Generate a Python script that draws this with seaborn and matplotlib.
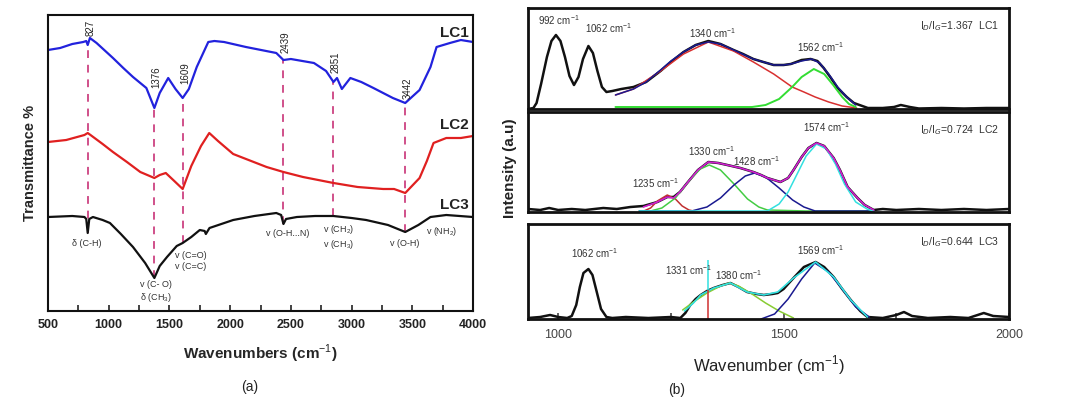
import numpy as np
import matplotlib
matplotlib.use("Agg")
import matplotlib.pyplot as plt
import matplotlib.ticker as mticker
import seaborn as sns

sns.set_theme(style="white")
plt.rcParams["font.family"] = ["Liberation Sans", "DejaVu Sans"]
plt.rcParams["mathtext.fontset"] = "custom"
plt.rcParams["mathtext.rm"] = "Liberation Sans"

# ---------------------------------------------------------------
# (a) FTIR spectra, arbitrary transmittance units (offset stack)
# ---------------------------------------------------------------
lc1_wn = [500, 600, 700, 790, 815, 827, 845, 900, 1035, 1120, 1200, 1310, 1376, 1420, 1490,
          1550, 1609, 1660, 1725, 1820, 1870, 1950, 2130, 2380, 2439, 2500, 2690, 2790, 2851,
          2880, 2920, 2990, 3080, 3180, 3340, 3442, 3560, 3650, 3700, 3810, 3900, 4000]
lc1_t = [261, 263, 267, 269, 270, 266, 273, 268, 253, 243, 234, 223, 203, 218, 233,
         222, 213, 222, 244, 269, 270, 269, 264, 258, 251, 252, 248, 240, 229,
         233, 222, 233, 229, 223, 213, 208, 221, 244, 264, 268, 271, 269]

lc2_wn = [500, 650, 800, 827, 850, 950, 1035, 1150, 1260, 1376, 1420, 1470, 1540, 1609, 1680,
          1760, 1828, 1900, 2025, 2300, 2439, 2600, 2851, 3050, 3260, 3350, 3442, 3560, 3620,
          3675, 3780, 3900, 4000]
lc2_t = [169, 171, 176, 178, 176, 167, 159, 149, 139, 133, 136, 138, 130, 122, 145,
         165, 178, 170, 157, 144, 139, 134, 128, 124, 122, 122, 118, 133, 150,
         168, 173, 173, 175]

lc3_wn = [500, 700, 800, 815, 827, 840, 870, 950, 1010, 1100, 1200, 1300, 1376, 1420, 1480,
          1560, 1609, 1680, 1750, 1790, 1800, 1830, 2025, 2200, 2380, 2420, 2439, 2460, 2550,
          2700, 2850, 3000, 3120, 3300, 3442, 3550, 3650, 3780, 4000]
lc3_t = [94, 95, 94, 92, 78, 92, 94, 91, 88, 77, 64, 48, 33, 45, 54,
         65, 68, 74, 81, 80, 77, 83, 91, 95, 98, 96, 87, 92, 94,
         95, 95, 93, 91, 86, 79, 86, 94, 96, 94]

ftir_peaks = [827, 1376, 1609, 2439, 2851, 3442]
ftir_peak_y = [283, 234, 238, 269, 249, 223]

band_labels = ["δ (C-H)", "v (C- O)\nδ (CH$_3$)", "v (C=O)\nv (C=C)", "v (O-H...N)",
               "v (CH$_2$)\nv (CH$_3$)", "v (O-H)", "v (NH$_2$)"]
band_wn = [823, 1390, 1678, 2470, 2890, 3440, 3745]
band_y = [68, 19, 50, 78, 74, 68, 79]

# ---------------------------------------------------------------
# (b) Raman spectra with deconvoluted bands
# ---------------------------------------------------------------
r1_wn = [933, 945, 952, 962, 975, 985, 995, 1005, 1015, 1025, 1035, 1045, 1055, 1067, 1077,
         1087, 1097, 1107, 1120, 1140, 1167, 1195, 1227, 1250, 1278, 1305, 1333, 1360, 1389,
         1410, 1433, 1455, 1478, 1500, 1516, 1540, 1560, 1575, 1589, 1605, 1620, 1640, 1656,
         1687, 1720, 1745, 1760, 1780, 1800, 1850, 1900, 1950, 2000]
r1_int = [0, 1, 6, 25, 52, 68, 74, 68, 52, 33, 24, 32, 50, 63, 56,
          38, 22, 17, 18, 20, 22, 27, 38, 47, 57, 64, 68, 65, 59,
          55, 50, 47, 44, 44, 45, 49, 50, 48, 41, 31, 21, 12, 6,
          1, 1, 2, 4, 2, 0.5, 1, 0.5, 1, 1]
r1_fit_wn = [1127, 1167, 1195, 1227, 1250, 1278, 1305, 1333, 1360, 1389, 1433, 1478, 1500,
             1516, 1540, 1562, 1580, 1600, 1620, 1640, 1660]
r1_fit = [14, 20, 27, 39, 48, 57, 64, 67, 65, 59, 50, 44, 44,
          45, 48, 50, 46, 35, 22, 12, 4]
r1_d_wn = [1127, 1167, 1227, 1278, 1333, 1389, 1433, 1478, 1519, 1545, 1570, 1600, 1630, 1662]
r1_d = [14, 20, 38, 55, 67, 58, 47, 35, 22, 17, 12, 7, 3, 1]
r1_g_wn = [1127, 1300, 1430, 1460, 1490, 1519, 1540, 1567, 1590, 1610, 1630, 1645, 1660]
r1_g = [2, 2, 2, 4, 10, 22, 32, 40, 35, 24, 12, 5, 2]

r2_wn = [933, 960, 980, 1000, 1030, 1060, 1100, 1130, 1160, 1189, 1220, 1242, 1256, 1270, 1286,
         1310, 1333, 1355, 1375, 1404, 1433, 1450, 1464, 1493, 1510, 1522, 1540, 1555, 1573,
         1590, 1611, 1625, 1642, 1664, 1680, 1700, 1720, 1750, 1800, 1850, 1900, 1950, 2000]
r2_int = [3, 2, 4, 2, 3, 2, 4, 3, 5, 6, 10, 15, 15, 20, 29,
          42, 50, 49, 47, 44, 40, 37, 34, 30, 34, 42, 55, 64, 69,
          66, 54, 42, 25, 14, 7, 2, 3, 2, 3, 2, 3, 2, 3]
r2_fit_wn = [1189, 1220, 1242, 1256, 1270, 1286, 1310, 1333, 1355, 1375, 1404, 1433, 1450,
             1464, 1493, 1510, 1522, 1540, 1555, 1573, 1590, 1611, 1625, 1642, 1664, 1680, 1700]
r2_fit = [5, 10, 15, 14, 20, 29, 42, 50, 49, 47, 44, 40, 37,
          34, 30, 34, 42, 55, 64, 69, 66, 54, 42, 25, 14, 7, 2]
r2_b1_wn = [1180, 1190, 1205, 1220, 1242, 1260, 1275, 1290, 1300]
r2_b1 = [1, 1, 4, 11, 17, 13, 6, 2, 1]
r2_b2_wn = [1180, 1205, 1230, 1260, 1290, 1315, 1335, 1360, 1390, 1420, 1445, 1464, 1550, 1700]
r2_b2 = [1, 1, 4, 14, 31, 43, 47, 42, 28, 13, 5, 2, 1, 1]
r2_b3_wn = [1180, 1296, 1330, 1360, 1390, 1415, 1436, 1460, 1490, 1520, 1545, 1570, 1700]
r2_b3 = [1, 1, 5, 14, 27, 36, 39, 35, 24, 12, 5, 1, 1]
r2_b4_wn = [1180, 1464, 1490, 1510, 1530, 1550, 1573, 1595, 1615, 1635, 1660, 1685, 1700]
r2_b4 = [1, 1, 8, 20, 38, 56, 68, 63, 48, 28, 10, 3, 1]

r3_wn = [933, 960, 982, 1000, 1020, 1030, 1040, 1048, 1056, 1067, 1076, 1085, 1095, 1107, 1120,
         1150, 1200, 1250, 1271, 1282, 1293, 1305, 1316, 1330, 1345, 1365, 1382, 1400, 1419,
         1440, 1456, 1475, 1487, 1500, 1522, 1545, 1571, 1590, 1611, 1630, 1649, 1670, 1686,
         1720, 1750, 1767, 1785, 1820, 1870, 1910, 1944, 1965, 2000]
r3_int = [1, 2, 4, 2, 1, 3, 14, 32, 46, 50, 44, 28, 10, 2, 1,
          2, 1, 2, 1, 6, 14, 20, 24, 28, 31, 34, 36, 32, 27,
          25, 24, 25, 26, 30, 41, 52, 57, 52, 42, 30, 19, 8, 2,
          1, 4, 7, 3, 1, 2, 1, 6, 3, 2]
r3_fit_wn = [1280, 1300, 1316, 1345, 1382, 1419, 1456, 1487, 1522, 1571, 1611, 1649, 1686]
r3_fit = [8, 16, 24, 31, 36, 27, 24, 27, 41, 57, 42, 19, 2]
r3_b1_wn = [1276, 1300, 1330, 1360, 1380, 1400, 1430, 1460, 1490, 1522]
r3_b1 = [9, 17, 26, 33, 36, 33, 25, 16, 8, 1]
r3_b2_wn = [1450, 1480, 1510, 1540, 1569, 1600, 1630, 1660, 1690]
r3_b2 = [0, 5, 20, 40, 56, 47, 30, 12, 2]
r3_spike_wn = 1333
r3_spike = [0, 29, 59]

raman_labels = [
    [("992 cm$^{-1}$", 1002, 89), ("1062 cm$^{-1}$", 1111, 81), ("1340 cm$^{-1}$", 1342, 76),
     ("1562 cm$^{-1}$", 1582, 62)],
    [("1235 cm$^{-1}$", 1216, 29), ("1330 cm$^{-1}$", 1340, 61), ("1428 cm$^{-1}$", 1440, 51),
     ("1574 cm$^{-1}$", 1596, 85)],
    [("1062 cm$^{-1}$", 1080, 66), ("1331 cm$^{-1}$", 1289, 49), ("1380 cm$^{-1}$", 1400, 44),
     ("1569 cm$^{-1}$", 1582, 69)],
]
ratio_labels = ["I$_D$/I$_G$=1.367  LC1", "I$_D$/I$_G$=0.724  LC2", "I$_D$/I$_G$=0.644  LC3"]

W, H = 1067, 404
fig = plt.figure(figsize=(W / 100, H / 100), dpi=100)


def box(l, t, r, b):
    return [l / W, (H - b) / H, (r - l) / W, (b - t) / H]


# ---------------- panel (a)
ax = fig.add_axes(box(48, 15, 473, 311))
sns.lineplot(x=lc1_wn, y=lc1_t, ax=ax, color="#2222dd", linewidth=1.6)
sns.lineplot(x=lc2_wn, y=lc2_t, ax=ax, color="#e02020", linewidth=1.6)
sns.lineplot(x=lc3_wn, y=lc3_t, ax=ax, color="#111111", linewidth=1.6)
for wn in ftir_peaks:
    ax.vlines(wn, np.interp(wn, lc3_wn, lc3_t), np.interp(wn, lc1_wn, lc1_t),
              colors="#d0508a", linestyles=(0, (4, 3.5)), linewidth=1.4, zorder=1)
for wn, yy in zip(ftir_peaks, ftir_peak_y):
    ax.text(wn + 20, yy, str(wn), rotation=90, ha="center", va="center", fontsize=7, color="#222222")
for lab, wn, yy in zip(band_labels, band_wn, band_y):
    ax.text(wn, yy, lab, ha="center", va="center", fontsize=6.5, color="#333333", linespacing=1.3)
for lab, yy in zip(["LC1", "LC2", "LC3"], [278, 186, 106]):
    ax.text(3965, yy, lab, ha="right", va="center", fontsize=11, fontweight="bold", color="#222222")
ax.set_xlim(500, 4000)
ax.set_ylim(0, 296)
ax.set_yticks([])
ax.xaxis.set_major_locator(mticker.MultipleLocator(500))
ax.xaxis.set_minor_locator(mticker.MultipleLocator(250))
ax.tick_params(axis="x", which="both", direction="in", bottom=True, length=4, width=1.2,
               labelsize=9, pad=6, colors="#222222")
for t in ax.get_xticklabels():
    t.set_fontweight("bold")
for s in ax.spines.values():
    s.set_color("#111111")
    s.set_linewidth(1.5)
ax.set_xlabel("Wavenumbers (cm$^{-1}$)", fontsize=11, fontweight="bold", labelpad=8)
ax.set_ylabel("Transmittance %", fontsize=10.5, fontweight="bold", labelpad=8)
fig.text(250 / W, 1 - 387 / H, "(a)", ha="center", va="center", fontsize=10, color="#222222")

# ---------------- panel (b)
frames = [(8, 109), (112, 212), (224, 319)]
axes = [fig.add_axes(box(528, t, 1009, b)) for t, b in frames]
a1, a2, a3 = axes

sns.lineplot(x=r1_wn, y=r1_int, ax=a1, color="#111111", linewidth=1.8)
sns.lineplot(x=r1_d_wn, y=r1_d, ax=a1, color="#d83030", linewidth=1.1)
sns.lineplot(x=r1_g_wn, y=r1_g, ax=a1, color="#33dd33", linewidth=1.4)
sns.lineplot(x=r1_fit_wn, y=r1_fit, ax=a1, color="#1a1a90", linewidth=1.1)

sns.lineplot(x=r2_wn, y=r2_int, ax=a2, color="#111111", linewidth=1.8)
sns.lineplot(x=r2_b1_wn, y=r2_b1, ax=a2, color="#c03030", linewidth=1.1)
sns.lineplot(x=r2_b2_wn, y=r2_b2, ax=a2, color="#44cc44", linewidth=1.1)
sns.lineplot(x=r2_b3_wn, y=r2_b3, ax=a2, color="#1a1a90", linewidth=1.1)
sns.lineplot(x=r2_b4_wn, y=r2_b4, ax=a2, color="#33e0e0", linewidth=1.1)
sns.lineplot(x=r2_fit_wn, y=r2_fit, ax=a2, color="#d020d0", linewidth=1.2)

sns.lineplot(x=r3_wn, y=r3_int, ax=a3, color="#111111", linewidth=1.8)
sns.lineplot(x=r3_b1_wn, y=r3_b1, ax=a3, color="#88cc33", linewidth=1.1)
sns.lineplot(x=r3_b2_wn, y=r3_b2, ax=a3, color="#1a1a90", linewidth=1.1)
sns.lineplot(x=r3_fit_wn, y=r3_fit, ax=a3, color="#33e0e0", linewidth=1.2)
a3.vlines(r3_spike_wn, r3_spike[0], r3_spike[1], colors="#d03030", linewidth=1.1)
a3.vlines(r3_spike_wn, r3_spike[1], r3_spike[2], colors="#33e0e0", linewidth=1.1)

for a, (t, b), labs, ratio in zip(axes, frames, raman_labels, ratio_labels):
    a.set_xlim(933, 2000)
    a.set_ylim(0, b - t)
    a.set_yticks([])
    a.xaxis.set_major_locator(mticker.MultipleLocator(500))
    a.xaxis.set_minor_locator(mticker.MultipleLocator(250))
    for s in a.spines.values():
        s.set_color("#111111")
        s.set_linewidth(2)
    for lab, wn, yy in labs:
        a.text(wn, yy, lab, ha="center", va="center", fontsize=7, color="#333333")
    a.text(1978, b - t - 18, ratio, ha="right", va="center", fontsize=7.5, color="#333333")
    if a is not a3:
        a.set_xticks([])
        a.set_xticks([], minor=True)

a3.tick_params(axis="x", which="both", direction="in", bottom=True, length=4, width=1.2,
               labelsize=9, pad=7, colors="#444444")
a3.set_xlabel("Wavenumber (cm$^{-1}$)", fontsize=12, color="#222222", labelpad=9)
fig.text(510 / W, 1 - 168 / H, "Intensity (a.u)", rotation=90, ha="center", va="center",
         fontsize=11, fontweight="bold", color="#222222")
fig.text(677 / W, 1 - 390 / H, "(b)", ha="center", va="center", fontsize=10, color="#222222")

fig.savefig("out.png", dpi=100)
